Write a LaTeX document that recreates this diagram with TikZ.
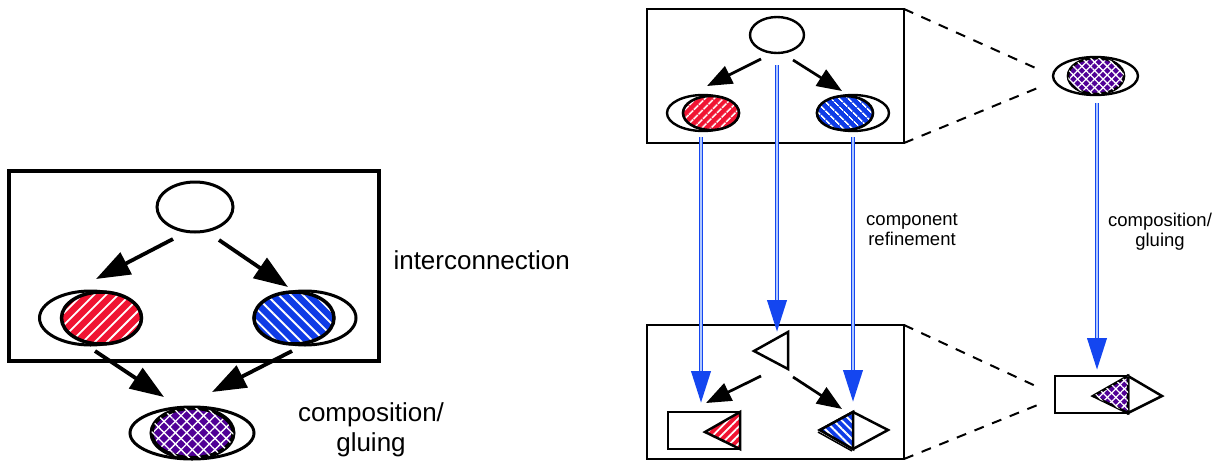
\documentclass[tikz,border=0pt]{standalone}
\usepackage{fontspec}
\setmainfont{Liberation Sans}
\usetikzlibrary{shapes.geometric,arrows.meta,patterns.meta,calc}
\definecolor{cred}{RGB}{240,20,50}
\definecolor{cblue}{RGB}{15,60,230}
\definecolor{cpurple}{RGB}{80,0,150}
\definecolor{cline}{RGB}{20,70,240}
\definecolor{clight}{RGB}{175,200,255}
\tikzset{
  ov/.style={ellipse, draw, inner sep=0pt, outer sep=0pt, line width=3pt},
  ovs/.style={ellipse, draw, inner sep=0pt, outer sep=0pt, line width=2.4pt},
  boxnode/.style={draw, inner sep=0pt, outer sep=0pt},
  redfill/.style={preaction={fill=cred}, pattern={Lines[angle=45,distance=#1,line width=1.8pt]}, pattern color=white},
  redfill/.default=8.5pt,
  bluefill/.style={preaction={fill=cblue}, pattern={Lines[angle=-45,distance=#1,line width=1.8pt]}, pattern color=white},
  bluefill/.default=8.5pt,
  purplefill/.style={preaction={fill=cpurple}, pattern={Lines[angle=45,distance=#1,line width=1.3pt]}, pattern color=white,
     postaction={pattern={Lines[angle=-45,distance=#1,line width=1.3pt]}, pattern color=white}},
  purplefill/.default=8pt,
  bigarr/.style={line width=3.8pt, -{Triangle[length=34pt,width=24pt]}},
  smallarr/.style={line width=2.7pt, -{Triangle[length=25pt,width=19pt]}},
  blueconn/.style={draw=cline, line width=4pt, -{Triangle[length=32pt,width=19pt]},
     postaction={draw=clight, line width=1.4pt, -, shorten >=32pt}},
  dashln/.style={line width=2pt, dash pattern=on 10pt off 9pt},
  shapeln/.style={line width=2.5pt, line join=miter},
  bigtxt/.style={align=center, font=\fontsize{26}{30}\selectfont},
  smalltxt/.style={align=center, font=\fontsize{18.5}{20}\selectfont},
}
\begin{document}
\begin{tikzpicture}[x=1pt,y=-1pt]
\useasboundingbox (0,0) rectangle (1223,461);

% ---------------- left diagram ----------------
\node[boxnode, line width=3.5pt, minimum width=370pt, minimum height=190pt] (boxL) at (194,266) {};
\node[ov, minimum width=76pt, minimum height=50pt] (topL) at (195,207) {};
\node[ov, minimum width=102pt, minimum height=54pt] (redLo) at (90.5,318) {};
\node[ov, redfill, line width=3.5pt, minimum width=80pt, minimum height=52pt] (redLi) at (101.5,318) {};
\node[ov, minimum width=102pt, minimum height=54pt] (blueLo) at (305,318) {};
\node[ov, bluefill, line width=3.5pt, minimum width=80pt, minimum height=52pt] (blueLi) at (294,318) {};
\node[ov, minimum width=124pt, minimum height=52pt] (purLo) at (192,433) {};
\node[ov, purplefill, line width=4pt, minimum width=82pt, minimum height=50pt] (purLi) at (192.5,433) {};

\coordinate (a1s) at (173,239); \coordinate (a1e) at (96,279);
\coordinate (a2s) at (219,240); \coordinate (a2e) at (288,287);
\coordinate (a3s) at (95,351);  \coordinate (a3e) at (164,397);
\coordinate (a4s) at (292,351); \coordinate (a4e) at (212,392);
\draw[bigarr] (a1s) -- (a1e);
\draw[bigarr] (a2s) -- (a2e);
\draw[bigarr] (a3s) -- (a3e);
\draw[bigarr] (a4s) -- (a4e);

\node[bigtxt, anchor=west] (interL) at (390,260) {interconnection};
\node[bigtxt] (compL) at (371,430) {composition/\\gluing};

% ---------------- right diagram: top ----------------
\node[boxnode, line width=2.8pt, minimum width=257pt, minimum height=134pt] (boxT) at (775.5,76) {};
\node[ovs, minimum width=54pt, minimum height=36pt] (topR) at (777,35) {};
\node[ovs, minimum width=72pt, minimum height=36pt] (redRo) at (703,113) {};
\node[ovs, redfill=6.5pt, line width=2.6pt, minimum width=56pt, minimum height=34pt] (redRi) at (711,113) {};
\node[ovs, minimum width=72pt, minimum height=36pt] (blueRo) at (853,113) {};
\node[ovs, bluefill=6.5pt, line width=2.6pt, minimum width=56pt, minimum height=34pt] (blueRi) at (845,113) {};

\coordinate (b1s) at (761,59); \coordinate (b1e) at (707,86);
\coordinate (b2s) at (793,60); \coordinate (b2e) at (842,91);
\draw[smallarr] (b1s) -- (b1e);
\draw[smallarr] (b2s) -- (b2e);

% top-right composed component
\node[ovs, minimum width=85pt, minimum height=38pt] (purRo) at (1095.5,76) {};
\node[ovs, purplefill=6pt, line width=2.6pt, minimum width=56pt, minimum height=36pt] (purRi) at (1096,76) {};

% dashed zoom lines (top)
\coordinate (dt1) at (1040,70); \coordinate (dt2) at (1040,87);
\draw[dashln] (boxT.north east) -- (dt1);
\draw[dashln] (boxT.south east) -- (dt2);

% ---------------- right diagram: bottom ----------------
\node[boxnode, line width=2.8pt, minimum width=257pt, minimum height=134pt] (boxB) at (775.5,392) {};
\coordinate (t1) at (754,351); \coordinate (t2) at (788,332); \coordinate (t3) at (788,369);
\draw[shapeln, fill=white] (t1) -- (t2) -- (t3) -- cycle;

\coordinate (c1s) at (761,376); \coordinate (c1e) at (706,403);
\coordinate (c2s) at (793,377); \coordinate (c2e) at (842,409);
\draw[smallarr] (c1s) -- (c1e);
\draw[smallarr] (c2s) -- (c2e);

% left refined component: rectangle with red triangle
\node[boxnode, line width=2.5pt, minimum width=72pt, minimum height=37pt] (rectR) at (704,430.5) {};
\coordinate (r1) at (705,432);
\draw[shapeln, redfill=6pt] (r1) -- (rectR.north east) -- (rectR.south east) -- cycle;

% right refined component: diamond with blue half
\coordinate (d1) at (820,430); \coordinate (d2) at (853,412); \coordinate (d3) at (888,430); \coordinate (d4) at (853,449);
\draw[shapeln, fill=white] (d1) -- (d2) -- (d3) -- (d4) -- cycle;
\draw[shapeln, bluefill=6pt] (d1) -- (d2) -- (d4) -- cycle;
\draw[line width=1.5pt] ($(d1)+(-2,2)$) -- ($(d4)+(-1,2)$);

% bottom-right composed component
\node[boxnode, line width=2.5pt, minimum width=73pt, minimum height=37pt] (rectC) at (1091.5,394.5) {};
\coordinate (e1) at (1093,396); \coordinate (e3) at (1162,396);
\draw[shapeln, fill=white] (rectC.north east) -- (e3) -- (rectC.south east) -- cycle;
\draw[shapeln, purplefill=6pt] (e1) -- (rectC.north east) -- (rectC.south east) -- cycle;

% dashed zoom lines (bottom)
\coordinate (db1) at (1040,388); \coordinate (db2) at (1040,404);
\draw[dashln] (boxB.north east) -- (db1);
\draw[dashln] (boxB.south east) -- (db2);

% ---------------- blue refinement arrows ----------------
\coordinate (u1) at (701,137); \coordinate (v1) at (701,403);
\coordinate (u2) at (777,65);  \coordinate (v2) at (777,332);
\coordinate (u3) at (853,137); \coordinate (v3) at (853,402);
\coordinate (u4) at (1097,103); \coordinate (v4) at (1097,370);
\draw[blueconn] (u1) -- (v1);
\draw[blueconn] (u2) -- (v2);
\draw[blueconn] (u3) -- (v3);
\draw[blueconn] (u4) -- (v4);

\node[smalltxt] (refR) at (912,230) {component\\refinement};
\node[smalltxt] (compR) at (1160,232) {composition/\\gluing};
\end{tikzpicture}
\end{document}
